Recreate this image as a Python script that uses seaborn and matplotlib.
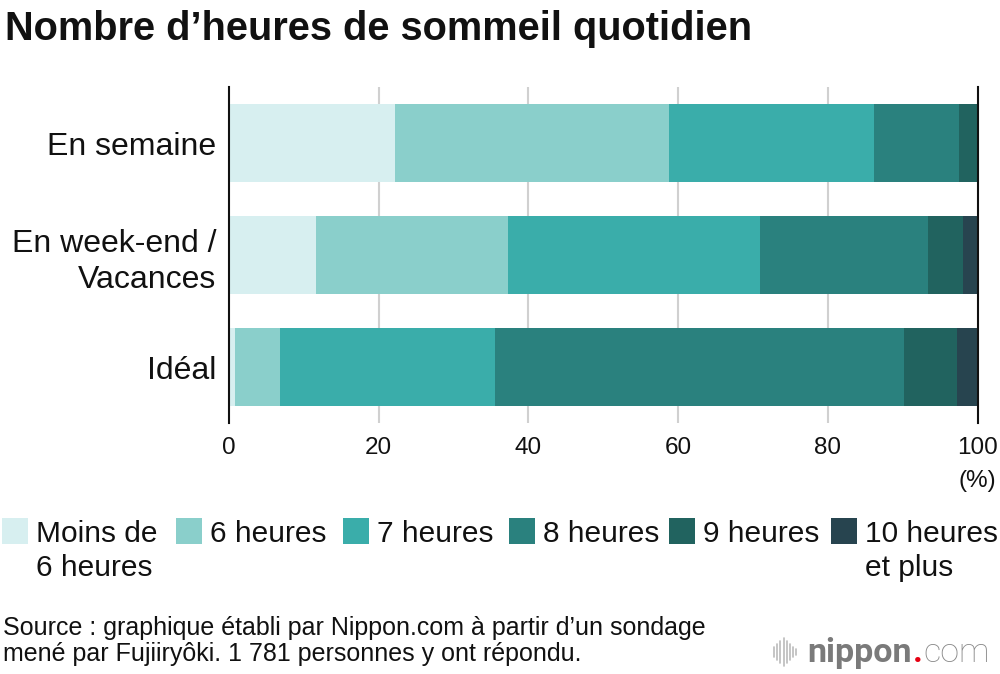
import numpy as np
import pandas as pd
import matplotlib
matplotlib.use("Agg")
import matplotlib.pyplot as plt
from matplotlib.patches import Rectangle
from matplotlib.lines import Line2D
import seaborn as sns

# Data (%)
groups = ["En semaine", "En week-end /\nVacances", "Idéal"]
categories = ["Moins de\n6 heures", "6 heures", "7 heures", "8 heures", "9 heures", "10 heures\net plus"]
moins_6h = [22.2, 11.7, 0.8]
h6 = [36.6, 25.6, 6.1]
h7 = [27.4, 33.6, 28.7]
h8 = [11.3, 22.5, 54.5]
h9 = [2.5, 4.7, 7.2]
h10_plus = [0.0, 1.9, 2.7]
colors = ["#d7eff0", "#8acfcb", "#3aadaa", "#2a817e", "#21635f", "#27444f"]
x_ticks = [0, 20, 40, 60, 80, 100]

sns.set_theme(style="white")
plt.rcParams["font.family"] = ["Liberation Sans", "DejaVu Sans"]

df = pd.DataFrame([moins_6h, h6, h7, h8, h9, h10_plus], index=categories, columns=groups).T
cum = df.cumsum(axis=1)

fig = plt.figure(figsize=(10, 6.74), dpi=100)
ax = fig.add_axes([0.2287, 0.372, 0.749, 0.4985])

# stacked bars: draw cumulative totals from the outermost segment inward
for cat, col in reversed(list(zip(categories, colors))):
    sns.barplot(x=cum[cat].values, y=groups, orient="h", color=col, width=0.7,
                saturation=1, ax=ax, zorder=2, linewidth=0)

ax.set_xlim(0, 100)
ax.set_ylim(2.5, -0.5)
ax.set_xticks(x_ticks)
ax.set_xticklabels([str(t) for t in x_ticks])
for t in x_ticks[1:-1]:
    ax.axvline(t, color="#d0d0d0", lw=1.5, zorder=1)
ax.set_xlabel("")
ax.set_ylabel("")
for s in ["top", "bottom"]:
    ax.spines[s].set_visible(False)
for s in ["left", "right"]:
    ax.spines[s].set_color("#111111")
    ax.spines[s].set_linewidth(1.5)
    ax.spines[s].set_zorder(3)
ax.tick_params(axis="y", length=0, pad=9, labelsize=23, labelcolor="#111111")
ax.tick_params(axis="x", length=0, pad=10, labelsize=17.5, labelcolor="#111111")
for lbl in ax.get_yticklabels():
    lbl.set_linespacing(1.25)
ax.text(100, -0.14, "(%)", transform=ax.get_xaxis_transform(), ha="center", va="top",
        fontsize=17.5, color="#111111")

# title
fig.text(0.005, 1 - 40 / 674, "Nombre d\u2019heures de sommeil quotidien", fontsize=28.6,
         fontweight="bold", color="#111111", va="baseline", ha="left")

# legend (square aligned with first text line)
sq_x = [2, 176, 343, 509, 669, 831]
for x0, cat, col in zip(sq_x, categories, colors):
    fig.add_artist(Rectangle((x0 / 1000, 1 - 544 / 674), 26 / 1000, 26 / 674,
                             transform=fig.transFigure, color=col, lw=0))
    for k, line in enumerate(cat.split("\n")):
        fig.text((x0 + 34) / 1000, 1 - (541.7 + 34 * k) / 674, line, fontsize=21.5,
                 color="#111111", va="baseline", ha="left")

# source
source_lines = ["Source : graphique établi par Nippon.com à partir d\u2019un sondage",
                "mené par Fujiiryôki. 1 781 personnes y ont répondu."]
for k, line in enumerate(source_lines):
    fig.text(0.003, 1 - (634.5 + 27 * k) / 674, line, fontsize=18, color="#111111",
             va="baseline", ha="left")

# logo
wave = [10, 16, 22, 28, 22, 16, 10, 6]
for i, h in enumerate(wave):
    xx = (774 + i * 3.2) / 1000
    fig.add_artist(Line2D([xx, xx], [1 - (652 + h / 2) / 674, 1 - (652 - h / 2) / 674],
                          transform=fig.transFigure, color="#bbbbbb", lw=1.2))
fig.canvas.draw()
r = fig.canvas.get_renderer()
t1 = fig.text(0.807, 1 - 662 / 674, "nippon", fontsize=24.5, color="#7a7a7a",
              fontweight="bold", va="baseline", ha="left", family="Roboto")
bb = t1.get_window_extent(r)
t2 = fig.text(bb.x1 / 1000 + 0.001, 1 - 662 / 674, ".", fontsize=24.5, color="#e60012",
              fontweight="bold", va="baseline", ha="left", family="Roboto")
bb2 = t2.get_window_extent(r)
fig.text(bb2.x1 / 1000 + 0.001, 1 - 662 / 674, "com", fontsize=24.5, color="#8a8a8a",
         fontweight="light", va="baseline", ha="left", family="Roboto")

fig.savefig("out.png", dpi=100, facecolor="white")
